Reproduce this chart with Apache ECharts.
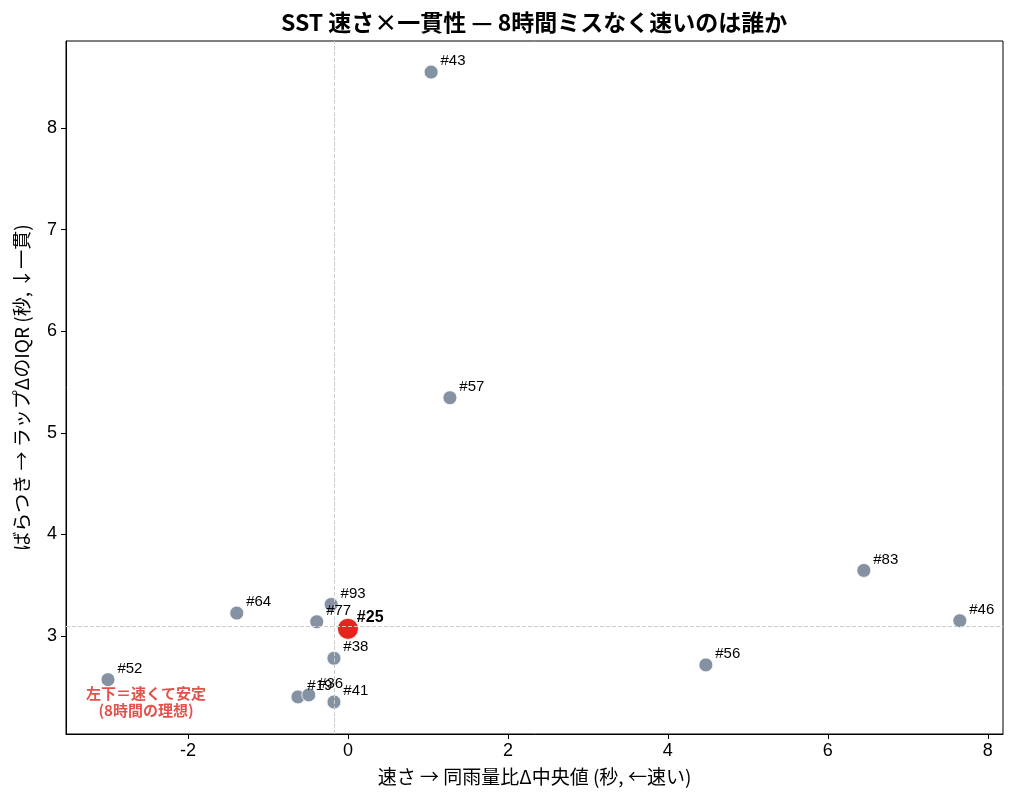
<!DOCTYPE html>
<html>
<head>
<meta charset="utf-8">
<script src="https://cdn.jsdelivr.net/npm/echarts@6/dist/echarts.min.js"></script>
<style>
  html, body { margin: 0; padding: 0; background: #fff; }
  #chart { width: 1015px; height: 803px; }
</style>
</head>
<body>
<div id="chart"></div>
<script>
// 各選手: 速さ(同雨量比Δ中央値) と ばらつき(ラップΔのIQR)
var names = ['#43', '#57', '#83', '#46', '#56', '#64', '#93', '#77', '#38', '#52', '#19', '#36', '#41'];
var speed = [1.04, 1.275, 6.45, 7.65, 4.475, -1.39, -0.21, -0.39, -0.175, -3.0, -0.625, -0.49, -0.175];
var spread = [8.55, 5.345, 3.645, 3.15, 2.715, 3.225, 3.31, 3.14, 2.78, 2.57, 2.40, 2.42, 2.35];

// 注目選手
var focusName = '#25';
var focusPoint = [0.0, 3.07];

var xTicks = [-2, 0, 2, 4, 6, 8];
var yTicks = [3, 4, 5, 6, 7, 8];

var font = "'Liberation Sans', 'Noto Sans CJK JP', sans-serif";
var jpFont = "'Noto Sans CJK JP', sans-serif";

function median(arr) {
  var s = arr.slice().sort(function (a, b) { return a - b; });
  var m = Math.floor(s.length / 2);
  return s.length % 2 ? s[m] : (s[m - 1] + s[m]) / 2;
}
var medX = median(speed.concat([focusPoint[0]]));
var medY = median(spread.concat([focusPoint[1]]));

var others = names.map(function (n, i) {
  return { name: n, value: [speed[i], spread[i]] };
});

var chart = echarts.init(document.getElementById('chart'));
chart.setOption({
  animation: false,
  textStyle: { fontFamily: font },
  title: {
    text: 'SST 速さ×一貫性 — 8時間ミスなく速いのは誰か',
    left: 276,
    top: 6,
    textStyle: { fontSize: 23, fontWeight: 'bold', color: '#000', fontFamily: jpFont }
  },
  grid: {
    left: 66, right: 12, top: 41, bottom: 69,
    show: true, borderColor: '#000', borderWidth: 1
  },
  xAxis: {
    type: 'value',
    min: -3.525,
    max: 8.19,
    name: '速さ → 同雨量比Δ中央値 (秒, ←速い)',
    nameLocation: 'middle',
    nameGap: 33,
    nameTextStyle: { fontSize: 19, color: '#000', fontFamily: jpFont },
    splitLine: { show: false },
    axisLine: { show: true, onZero: false, lineStyle: { color: '#000' } },
    axisTick: { show: true, inside: false, length: 5, customValues: xTicks, lineStyle: { color: '#000' } },
    axisLabel: { fontSize: 18, color: '#000', margin: 8, customValues: xTicks }
  },
  yAxis: {
    type: 'value',
    min: 2.035,
    max: 8.856,
    name: 'ばらつき → ラップΔのIQR (秒, ↓一貫)',
    nameLocation: 'middle',
    nameGap: 35,
    nameTextStyle: { fontSize: 19, color: '#000', fontFamily: jpFont },
    splitLine: { show: false },
    axisLine: { show: true, onZero: false, lineStyle: { color: '#000' } },
    axisTick: { show: true, inside: false, length: 5, customValues: yTicks, lineStyle: { color: '#000' } },
    axisLabel: { fontSize: 18, color: '#000', margin: 9, customValues: yTicks }
  },
  series: [
    {
      type: 'scatter',
      data: others,
      symbolSize: 14,
      itemStyle: { color: '#8592a3', borderColor: '#fff', borderWidth: 0.8, opacity: 1 },
      label: {
        show: true,
        formatter: '{b}',
        position: 'right',
        distance: 2,
        offset: [0, -11],
        fontSize: 15,
        color: '#000'
      },
      markLine: {
        silent: true,
        symbol: 'none',
        label: { show: false },
        lineStyle: { color: '#cccccc', type: 'dashed', width: 1 },
        data: [{ xAxis: medX }, { yAxis: medY }]
      },
      z: 3
    },
    {
      type: 'scatter',
      data: [{ name: focusName, value: focusPoint }],
      symbolSize: 21,
      itemStyle: { color: '#e2261f', borderColor: '#fff', borderWidth: 0.8, opacity: 1 },
      label: {
        show: true,
        formatter: '{b}',
        position: 'right',
        distance: 0,
        offset: [-2, -11],
        fontSize: 16,
        fontWeight: 'bold',
        color: '#000'
      },
      z: 4
    },
    {
      type: 'scatter',
      silent: true,
      data: [{ name: '左下＝速くて安定\n(8時間の理想)', value: [-2.525, 2.35] }],
      symbolSize: 0,
      label: {
        show: true,
        formatter: '{b}',
        position: 'inside',
        fontSize: 15,
        lineHeight: 17,
        fontWeight: 'bold',
        align: 'center',
        color: '#dc261e',
        fontFamily: jpFont
      },
      z: 5
    }
  ]
});
</script>
</body>
</html>
